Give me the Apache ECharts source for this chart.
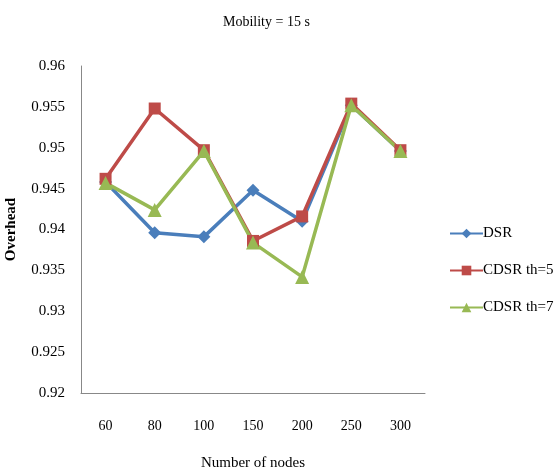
<!DOCTYPE html>
<html><head><meta charset="utf-8">
<script src="https://cdn.jsdelivr.net/npm/echarts@6/dist/echarts.min.js"></script>
<style>html,body{margin:0;padding:0;background:#fff}#c{width:556px;height:470px}</style>
</head><body><div id="c"></div>
<script>
const categories = ['60','80','100','150','200','250','300'];
const dsr = [0.9458, 0.9396, 0.9391, 0.9448, 0.9410, 0.9552, 0.9496];
const cdsr5 = [0.9462, 0.9548, 0.9497, 0.9386, 0.9416, 0.9554, 0.9497];
const cdsr7 = [0.9457, 0.9424, 0.9496, 0.9384, 0.9342, 0.9552, 0.9496];
const seriesNames = ['DSR', 'CDSR th=5', 'CDSR th=7'];
const colors = ['#4A7EBB', '#BE4B48', '#98B954'];
const font = 'Liberation Serif';
const chart = echarts.init(document.getElementById('c'));
const mk = (name, data, color, symbol, size) => ({
  name, type: 'line', data, symbol, symbolSize: size,
  lineStyle: {color, width: 3.5}, itemStyle: {color},
  emphasis: {disabled: true}
});
chart.setOption({
  animation: false,
  color: colors,
  title: {text: 'Mobility = 15 s', left: 218, top: 10,
    textStyle: {fontFamily: font, fontSize: 14, fontWeight: 'normal', color: '#000'}},
  grid: {left: 81, right: 131, top: 66, bottom: 77, containLabel: false, outerBoundsMode: 'none'},
  legend: {orient: 'vertical', left: 449, top: 226, itemGap: 22, itemWidth: 33, itemHeight: 12,
    padding: 0,
    textStyle: {fontFamily: font, fontSize: 15, color: '#000', padding: [0,0,0,-5]},
    data: seriesNames},
  xAxis: {type: 'category', data: categories, boundaryGap: true,
    name: 'Number of nodes', nameLocation: 'middle', nameGap: 63,
    nameTextStyle: {fontFamily: font, fontSize: 15, color: '#000'},
    axisLine: {lineStyle: {color: '#888', width: 1}}, axisTick: {show: false},
    axisLabel: {fontFamily: font, fontSize: 14, color: '#000', margin: 26}},
  yAxis: {type: 'value', min: 0.92, max: 0.96, interval: 0.005,
    name: 'Overhead', nameLocation: 'middle', nameGap: 62, nameRotate: 90,
    nameTextStyle: {fontFamily: font, fontSize: 15, fontWeight: 'bold', color: '#000'},
    axisLine: {show: true, lineStyle: {color: '#888', width: 1}}, axisTick: {show: false},
    splitLine: {show: false},
    axisLabel: {fontFamily: font, fontSize: 15, color: '#000', margin: 16,
      formatter: v => String(parseFloat(v.toFixed(3)))}},
  series: [
    mk(seriesNames[0], dsr, colors[0], 'diamond', 13),
    mk(seriesNames[1], cdsr5, colors[1], 'rect', 12),
    mk(seriesNames[2], cdsr7, colors[2], 'triangle', 14)
  ]
});
</script></body></html>
